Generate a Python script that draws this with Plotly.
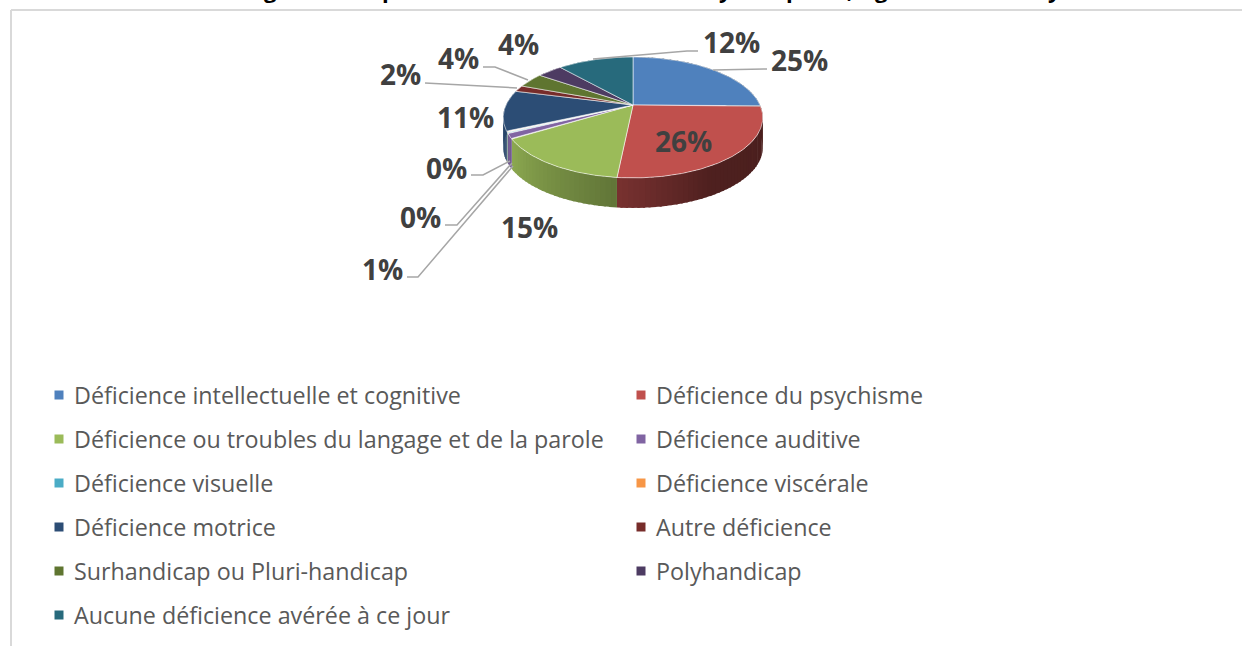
import numpy as np
import plotly.graph_objects as go

# ---- data
categories = ["Déficience intellectuelle et cognitive", "Déficience du psychisme",
              "Déficience ou troubles du langage et de la parole", "Déficience auditive",
              "Déficience visuelle", "Déficience viscérale", "Déficience motrice",
              "Autre déficience", "Surhandicap ou Pluri-handicap", "Polyhandicap",
              "Aucune déficience avérée à ce jour"]
values = [25.2, 26.4, 14.6, 1.4, 0.3, 0.2, 10.9, 1.7, 4.0, 3.8, 11.5]
colors = ["#4f81bd", "#c0504d", "#9bbb59", "#8064a2", "#4bacc6", "#f79646",
          "#2c4d75", "#772c2a", "#5f7530", "#4d3b62", "#276a7c"]

# ---- layout (pixels in the 1242x646 page)
label_pos = [(799, 60), (683, 141), (529, 227), (382, 269), (420, 217), (446, 168),
             (465, 117), (400, 74), (458, 58), (518, 44), (731, 42)]
leaders = {0: [(713, 70), (767, 69)],
           3: [(513, 166), (418, 277), (407, 277)],
           4: [(512, 163), (457, 225), (445, 225)],
           5: [(510, 161), (483, 175), (471, 175)],
           7: [(517, 88), (425, 83)],
           8: [(528, 80), (495, 67), (483, 67)],
           10: [(593, 59), (687, 51), (698, 51)]}
title_bits = [("g", 262), ("p", 380), ("y", 725), ("p", 793), (",", 855), ("g", 890), ("y", 1063)]
CX, CY, A, B, K, DEPTH = 633, 105, 127, 57.9, 0.206, 30


def project(theta_deg):
    t = np.radians(theta_deg)
    u, v = np.sin(t), np.cos(t)
    d = 1 + K * v
    return CX + A * u / d, CY - B * v / d


def shade(col, f):
    r, g, b = (int(col[i:i + 2], 16) for i in (1, 3, 5))
    return f"rgb({int(r * f)},{int(g * f)},{int(b * f)})"


fig = go.Figure()
total = sum(values)
edges = np.concatenate([[0], np.cumsum(values)]) / total * 360

# side wall, strip by strip; each strip slightly overlaps the next to hide seams
for i, col in enumerate(colors):
    a0, a1 = edges[i], edges[i + 1]
    n = max(1, int((a1 - a0) / 2))
    steps = np.linspace(a0, a1, n + 1)
    for s0, s1 in zip(steps[:-1], steps[1:]):
        f = np.interp((s0 + s1) / 2, [90, 150, 186, 237, 360], [0.38, 0.41, 0.63, 0.9, 0.9])
        th = np.linspace(s0, min(s1 + 0.8, a1), 4)
        x, y = project(th)
        fig.add_trace(go.Scatter(x=np.r_[x, x[::-1]], y=np.r_[y, y[::-1] + DEPTH],
                                 mode="lines", fill="toself", fillcolor=shade(col, f),
                                 line=dict(width=0), hoverinfo="skip", showlegend=False))

# top face
for i, col in enumerate(colors):
    th = np.linspace(edges[i], edges[i + 1], max(3, int(edges[i + 1] - edges[i]) * 2))
    x, y = project(th)
    fig.add_trace(go.Scatter(x=np.r_[CX, x, CX], y=np.r_[CY, y, CY], mode="lines",
                             fill="toself", fillcolor=col, name=categories[i],
                             line=dict(color="rgba(255,255,255,0.55)", width=1),
                             hoverinfo="name", showlegend=False))

# leader lines
for pts in leaders.values():
    fig.add_trace(go.Scatter(x=[p[0] for p in pts], y=[p[1] for p in pts], mode="lines",
                             line=dict(color="#a6a6a6", width=1.5), hoverinfo="skip",
                             showlegend=False))

# legend squares and names
ann = []
for i, (name, col) in enumerate(zip(categories, colors)):
    row, c = i // 2, i % 2
    ly = 395 + row * 44
    lx = 59 if c == 0 else 641
    fig.add_trace(go.Scatter(x=[lx], y=[ly], mode="markers",
                             marker=dict(symbol="square", size=9, color=col),
                             hoverinfo="skip", showlegend=False))
    ann.append(dict(x=lx + 13, y=ly, text=name, showarrow=False, xanchor="left", yanchor="middle",
                    font=dict(family="Open Sans", size=23.3, color="#595959")))

# percentage labels
for v, (lx, ly) in zip(values, label_pos):
    ann.append(dict(x=lx, y=ly, text=f"{round(v)}%", showarrow=False,
                    font=dict(family="Open Sans", size=28, color="#404040", weight="bold")))

# title, cut by the top of the page: only descenders show
for ch, tx in title_bits:
    ann.append(dict(x=tx / 1242, y=1, xref="paper", yref="paper", text=ch, showarrow=False,
                    yanchor="bottom", yshift=-6,
                    font=dict(family="Open Sans", size=22, color="#000000", weight="bold")))

fig.update_layout(
    width=1242, height=646, margin=dict(l=0, r=0, t=0, b=0),
    paper_bgcolor="white", plot_bgcolor="white", showlegend=False, annotations=ann,
    xaxis=dict(range=[0, 1242], visible=False, fixedrange=True),
    yaxis=dict(range=[646, 0], visible=False, fixedrange=True),
    shapes=[dict(type="line", x0=11, x1=1242, y0=10, y1=10, line=dict(color="#d9d9d9", width=2)),
            dict(type="line", x0=11, x1=11, y0=10, y1=646, line=dict(color="#d9d9d9", width=2))],
)
fig.write_html("out.html", config={"displayModeBar": False},
               post_script="document.body.style.margin='0';document.body.style.overflow='hidden';")
